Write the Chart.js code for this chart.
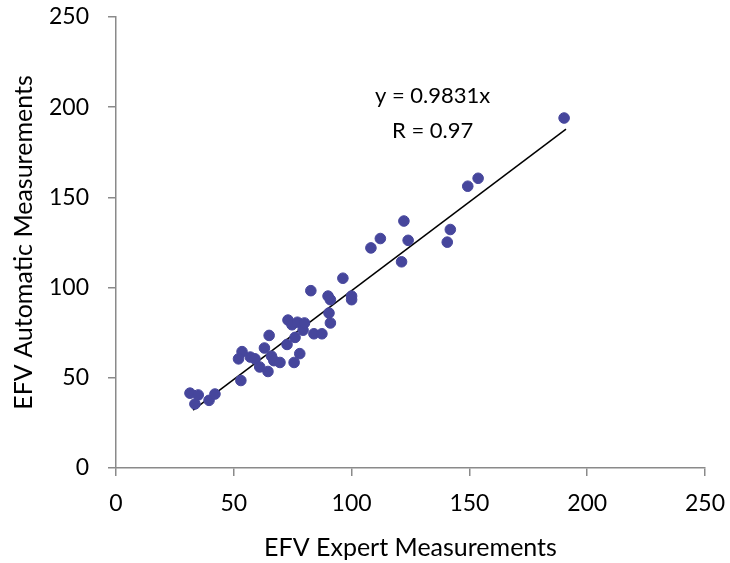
<!DOCTYPE html>
<html>
<head>
<meta charset="utf-8">
<script src="https://cdn.jsdelivr.net/npm/chart.js@4.4.1/dist/chart.umd.min.js"></script>
<style>
  html, body { margin: 0; padding: 0; background: #fff; }
  #wrap { width: 730px; height: 563px; }
</style>
</head>
<body>
<div id="wrap"><canvas id="efvChart" width="730" height="563"></canvas></div>
<script>
const expertVals = [31.4, 34.9, 33.5, 39.5, 42, 53, 53.5, 52, 57, 59, 61, 63, 65, 64.5, 66, 67, 69.6,
  72.6, 73, 74.7, 76, 77, 75.6, 78, 79.4, 80, 82.7, 84, 87.4, 90, 91, 90.4, 91, 96.3, 100, 100,
  108.2, 112.2, 122.2, 121.2, 124, 140.6, 141.9, 149.3, 153.7, 190.2];
const autoVals = [41.5, 40.5, 35.5, 37.5, 41, 48.5, 64.5, 60.5, 61.5, 60.5, 56, 66.5, 73.5, 53.5, 62, 59.5, 58.5,
  68.5, 82, 79.4, 72.4, 80.8, 58.5, 63.4, 76.4, 80.4, 98.3, 74.4, 74.4, 95.3, 93.3, 85.9, 80.4, 105.2, 95.3, 93.3,
  122, 127.2, 136.9, 114.3, 126.2, 125.2, 132.2, 156.2, 160.6, 194];

// trendline end points, y = 0.9831x
const fitX = [32.7, 191];
const fitY = [32.1, 187.8];

const axisTicks = [0, 50, 100, 150, 200, 250];
const fitLabels = ["y = 0.9831x", "R = 0.97"];

const scatterData = expertVals.map((x, i) => ({ x: x, y: autoVals[i] }));
const fitData = fitX.map((x, i) => ({ x: x, y: fitY[i] }));

const fontFamily = "Lato, 'Open Sans', sans-serif";

// draws the equation text above the line
const fitTextPlugin = {
  id: "fitText",
  afterDatasetsDraw(chart) {
    const ctx = chart.ctx;
    const xs = chart.scales.x;
    const ys = chart.scales.y;
    ctx.save();
    ctx.fillStyle = "#000";
    ctx.font = "22px " + fontFamily;
    ctx.textAlign = "center";
    ctx.textBaseline = "middle";
    ctx.fillText(fitLabels[0], xs.getPixelForValue(134.4), ys.getPixelForValue(206.5));
    ctx.fillText(fitLabels[1], xs.getPixelForValue(134.4), ys.getPixelForValue(187));
    ctx.restore();
  },
};

// keep the plot box fixed, the tick labels may overhang it
const noScalePadding = (axis) => {
  axis.paddingTop = 0;
  axis.paddingBottom = 0;
  axis.paddingLeft = 0;
  axis.paddingRight = 0;
};

const ctx = document.getElementById("efvChart").getContext("2d");
new Chart(ctx, {
  type: "scatter",
  data: {
    datasets: [
      {
        label: "Measurements",
        data: scatterData,
        backgroundColor: "#46469c",
        borderColor: "#46469c",
        pointRadius: 5.3,
        pointHoverRadius: 5.3,
      },
      {
        type: "line",
        label: "Fit",
        data: fitData,
        borderColor: "#000",
        borderWidth: 1.5,
        pointRadius: 0,
        fill: false,
      },
    ],
  },
  plugins: [fitTextPlugin],
  options: {
    responsive: false,
    animation: false,
    layout: { padding: { top: 17, right: 25, left: 0, bottom: 0 } },
    plugins: {
      legend: { display: false },
      tooltip: { enabled: false },
    },
    scales: {
      x: {
        type: "linear",
        min: 0,
        max: 250,
        afterBuildTicks: (axis) => { axis.ticks = axisTicks.map((v) => ({ value: v })); },
        grid: { drawOnChartArea: false, color: "#8a8a8a", tickLength: 8, lineWidth: 1.5 },
        border: { color: "#8a8a8a", width: 1.5 },
        ticks: { color: "#000", font: { size: 23, family: fontFamily }, padding: 14 },
        title: {
          display: true,
          text: "EFV Expert Measurements",
          color: "#000",
          font: { size: 25, family: fontFamily },
          padding: { top: 0, bottom: 0 },
        },
        afterFit: (axis) => { axis.height = 95; noScalePadding(axis); },
      },
      y: {
        type: "linear",
        min: 0,
        max: 250,
        afterBuildTicks: (axis) => { axis.ticks = axisTicks.map((v) => ({ value: v })); },
        grid: { drawOnChartArea: false, color: "#8a8a8a", tickLength: 8, lineWidth: 1.5 },
        border: { color: "#8a8a8a", width: 1.5 },
        ticks: { color: "#000", font: { size: 23, family: fontFamily }, padding: 19 },
        title: {
          display: true,
          text: "EFV Automatic Measurements",
          color: "#000",
          font: { size: 25, family: fontFamily },
          padding: { top: 9, bottom: 0 },
        },
        afterFit: (axis) => { axis.width = 116; noScalePadding(axis); },
      },
    },
  },
});
</script>
</body>
</html>
